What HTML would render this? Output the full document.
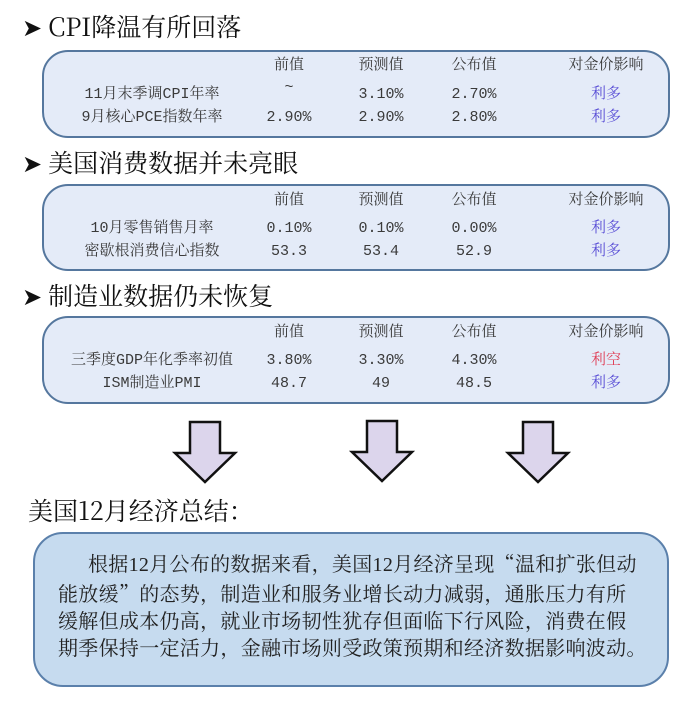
<!DOCTYPE html>
<html><head><meta charset="utf-8"><style>
body{margin:0;width:700px;height:715px;background:#fff;position:relative;overflow:hidden;font-family:"Liberation Serif","Noto Serif CJK SC",serif;color:#3a3a3a}
.h{position:absolute;left:22px;font-size:25px;color:#111;line-height:30px;white-space:nowrap;font-family:"Noto Serif CJK SC",serif}
.h b{font-weight:normal;font-size:24px;margin-right:6px;font-family:"DejaVu Sans",sans-serif}
.box{position:absolute;left:42px;width:628px;background:#e4ebf8;border:2px solid #55779e;border-radius:26px;box-sizing:border-box}
.t{position:absolute;font-size:15px;line-height:20px;transform:translateX(-50%);white-space:nowrap;font-family:"Liberation Mono","Noto Serif CJK SC",monospace}
.blue{color:#5a4fd6}.red{color:#e0415a}
.q{font-family:"Noto Serif CJK SC",serif}
.n{font-family:"Liberation Serif",serif}
</style></head><body>
<div class="h" style="top:11px"><b>➤</b>CPI降温有所回落</div>
<div class="box" style="top:50px;height:88px"></div>
<div class="t" style="left:289px;top:56px">前值</div><div class="t" style="left:381px;top:56px">预测值</div><div class="t" style="left:474px;top:56px">公布值</div><div class="t" style="left:606px;top:56px">对金价影响</div>
<div class="t" style="left:152px;top:85px">11月末季调CPI年率</div><div class="t" style="left:289px;top:78px">~</div><div class="t" style="left:381px;top:85px">3.10%</div><div class="t" style="left:474px;top:85px">2.70%</div><div class="t blue" style="left:606px;top:85px">利多</div>
<div class="t" style="left:152px;top:108px">9月核心PCE指数年率</div><div class="t" style="left:289px;top:108px">2.90%</div><div class="t" style="left:381px;top:108px">2.90%</div><div class="t" style="left:474px;top:108px">2.80%</div><div class="t blue" style="left:606px;top:108px">利多</div>

<div class="h" style="top:147px"><b>➤</b>美国消费数据并未亮眼</div>
<div class="box" style="top:184px;height:87px"></div>
<div class="t" style="left:289px;top:191px">前值</div><div class="t" style="left:381px;top:191px">预测值</div><div class="t" style="left:474px;top:191px">公布值</div><div class="t" style="left:606px;top:191px">对金价影响</div>
<div class="t" style="left:152px;top:219px">10月零售销售月率</div><div class="t" style="left:289px;top:219px">0.10%</div><div class="t" style="left:381px;top:219px">0.10%</div><div class="t" style="left:474px;top:219px">0.00%</div><div class="t blue" style="left:606px;top:219px">利多</div>
<div class="t" style="left:152px;top:242px">密歇根消费信心指数</div><div class="t" style="left:289px;top:242px">53.3</div><div class="t" style="left:381px;top:242px">53.4</div><div class="t" style="left:474px;top:242px">52.9</div><div class="t blue" style="left:606px;top:242px">利多</div>

<div class="h" style="top:280px"><b>➤</b>制造业数据仍未恢复</div>
<div class="box" style="top:316px;height:88px"></div>
<div class="t" style="left:289px;top:323px">前值</div><div class="t" style="left:381px;top:323px">预测值</div><div class="t" style="left:474px;top:323px">公布值</div><div class="t" style="left:606px;top:323px">对金价影响</div>
<div class="t" style="left:152px;top:351px">三季度GDP年化季率初值</div><div class="t" style="left:289px;top:351px">3.80%</div><div class="t" style="left:381px;top:351px">3.30%</div><div class="t" style="left:474px;top:351px">4.30%</div><div class="t red" style="left:606px;top:351px">利空</div>
<div class="t" style="left:152px;top:374px">ISM制造业PMI</div><div class="t" style="left:289px;top:374px">48.7</div><div class="t" style="left:381px;top:374px">49</div><div class="t" style="left:474px;top:374px">48.5</div><div class="t blue" style="left:606px;top:374px">利多</div>

<svg style="position:absolute;left:0;top:0" width="700" height="715">
<g fill="#dcd5ec" stroke="#111" stroke-width="2.5">
<polygon points="190,422 220,422 220,453 235,453 205,482 175,453 190,453"/>
<polygon points="367,421 397,421 397,452 412,452 382,481 352,452 367,452"/>
<polygon points="523,422 553,422 553,453 568,453 538,482 508,453 523,453"/>
</g></svg>

<div class="h" style="top:495px;left:28px">美国12月经济总结：</div>
<div style="position:absolute;left:33px;top:532px;width:636px;height:155px;box-sizing:border-box;background:#c6dbef;border:2px solid #5b80ab;border-radius:30px;padding:15px 0 0 23px;font-size:20px;line-height:27px;color:#222;white-space:nowrap;letter-spacing:0.3px;font-family:'Noto Serif CJK SC',serif"><span style="display:inline-block;width:30px"></span>根据<span class="n">12</span>月公布的数据来看，美国<span class="n">12</span>月经济呈现<span class="q">“</span>温和扩张但动<br>能放缓<span class="q">”</span>的态势，制造业和服务业增长动力减弱，通胀压力有所<br>缓解但成本仍高，就业市场韧性犹存但面临下行风险，消费在假<br>期季保持一定活力，金融市场则受政策预期和经济数据影响波动。</div>
</body></html>
